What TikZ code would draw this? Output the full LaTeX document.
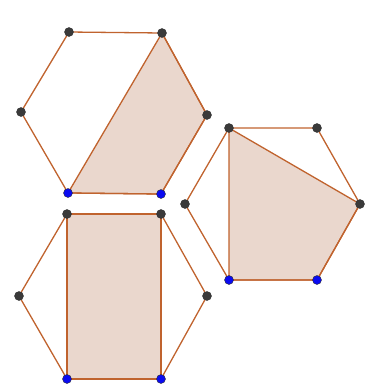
\documentclass[tikz,border=0pt]{standalone}
\definecolor{edge}{HTML}{C0632E}
\definecolor{fillc}{HTML}{EAD7CD}
\definecolor{dotg}{HTML}{3A3A3A}
\definecolor{dotb}{HTML}{0A0AF0}
\tikzset{
  edgeline/.style={draw=edge, line width=1.3pt, line join=round},
  shade/.style={fill=fillc, draw=edge, line width=1.3pt, line join=round},
  gdot/.style={circle, fill=dotg, draw=black!80, line width=0.4pt, inner sep=0pt, minimum size=9pt},
  bdot/.style={circle, fill=dotb, draw=black!80, line width=0.4pt, inner sep=0pt, minimum size=9pt}
}
\begin{document}
\begin{tikzpicture}[x=1pt,y=-1pt]
\useasboundingbox (0,0) rectangle (377,392);
% hexagon A (top-left)
\coordinate (a1) at (69,32);
\coordinate (a2) at (162,33);
\coordinate (a3) at (207,115);
\coordinate (a4) at (161,194);
\coordinate (a5) at (68,193);
\coordinate (a6) at (21,112);
% hexagon B (right)
\coordinate (b1) at (229,128);
\coordinate (b2) at (317,128);
\coordinate (b3) at (360,204);
\coordinate (b4) at (317,280);
\coordinate (b5) at (229,280);
\coordinate (b6) at (185,204);
% hexagon C (bottom-left)
\coordinate (c1) at (67,214);
\coordinate (c2) at (161,214);
\coordinate (c3) at (207,296);
\coordinate (c4) at (161,379);
\coordinate (c5) at (67,379);
\coordinate (c6) at (19,296);
% fills
\path[shade] (a2) -- (a3) -- (a4) -- (a5) -- cycle;
\path[shade] (b1) -- (b3) -- (b4) -- (b5) -- cycle;
\path[shade] (c1) -- (c2) -- (c4) -- (c5) -- cycle;
% hexagon outlines
\draw[edgeline] (a1) -- (a2) -- (a3) -- (a4) -- (a5) -- (a6) -- cycle;
\draw[edgeline] (b1) -- (b2) -- (b3) -- (b4) -- (b5) -- (b6) -- cycle;
\draw[edgeline] (c1) -- (c2) -- (c3) -- (c4) -- (c5) -- (c6) -- cycle;
% dots
\foreach \p in {a1,a2,a3,a6,b1,b2,b3,b6,c1,c2,c3,c6} \node[gdot] at (\p) {};
\foreach \p in {a4,a5,b4,b5,c4,c5} \node[bdot] at (\p) {};
\end{tikzpicture}
\end{document}
